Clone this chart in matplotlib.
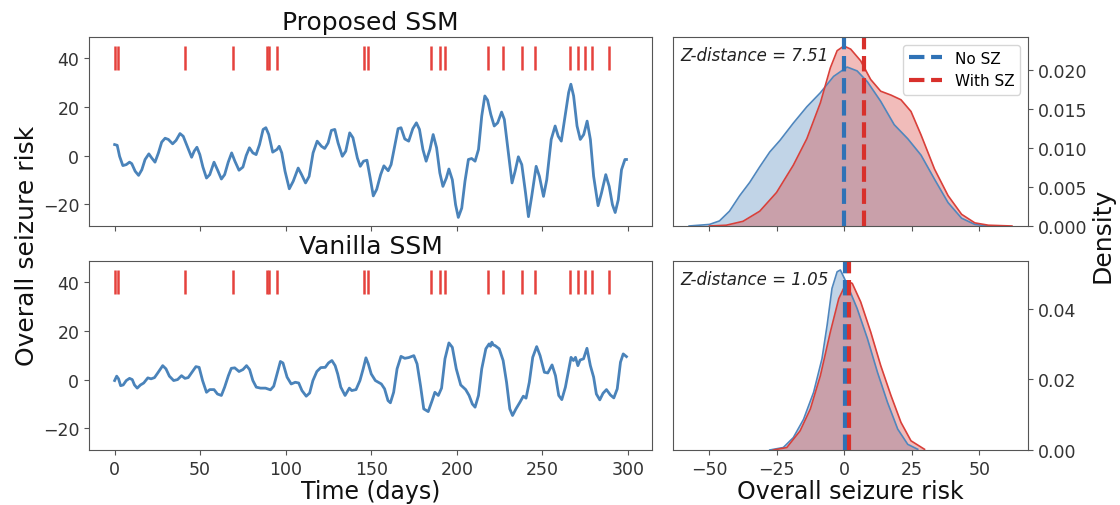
import numpy as np
import matplotlib.pyplot as plt

# seizure days (red ticks)
sz_days = [0, 2, 41, 69, 89, 90, 95, 146, 148, 185, 190, 193, 218, 227, 238,
           246, 266, 271, 275, 279, 289]

# proposed SSM risk trace
prop_days = [0, 1.5, 2.9, 4.8, 6.8, 8.7, 10, 12, 14, 15.9, 17.8, 20, 21.7, 23.6,
             25.6, 27.5, 29.5, 31.4, 33.9, 35.9, 38.2, 40.1, 42.2, 45, 46.5, 48.1,
             49.8, 51.6, 53.7, 55.6, 58.1, 60.1, 62.4, 64.3, 66.4, 68.4, 70.3,
             72.7, 75, 76.9, 78.8, 80.8, 82.7, 84.7, 86.8, 88.4, 90.1, 92.4, 94.9,
             96.2, 97.7, 99.6, 102.1, 104.4, 107.3, 109.3, 111.6, 113.7, 116,
             118.4, 120.9, 122.8, 124.8, 126.7, 128.7, 130.6, 133.1, 135.1, 137.4,
             139.3, 141.9, 143.6, 145.5, 147.5, 149.4, 151.2, 153.2, 155.5, 157.4,
             159.9, 161.6, 163.7, 165.7, 167.4, 169.6, 171.9, 174.3, 176.4, 178.2,
             180.2, 182.1, 184.3, 186.2, 188.2, 190.1, 191.9, 193.9, 195.4, 197.4,
             199.3, 200.9, 202.9, 204.8, 206.8, 208.7, 210.7, 212.7, 214.6, 216.4,
             218, 219.9, 221.9, 223.9, 226.2, 227.8, 229.7, 232.3, 234.1, 236,
             238, 240.2, 241.9, 243.8, 246.4, 248.3, 250.7, 252.6, 255.2, 257.5,
             259.3, 261.1, 263, 265.4, 266.7, 268.3, 270.3, 272.2, 274.2, 276.2,
             278.1, 280, 282.6, 284.6, 287.1, 289.1, 291, 292.6, 294.4, 296.3,
             298.3, 299.2]
prop_risk = [4.5, 4.2, -0.3, -4.1, -3.7, -2.7, -3.3, -6.4, -8.1, -5.8, -1.6, 0.7,
             -1.0, -2.7, 1.1, 5.5, 7.1, 6.6, 4.8, 6.2, 9.0, 7.9, 4.2, -0.7, 1.8,
             3.4, 0.4, -4.7, -9.2, -7.8, -2.7, -5.8, -9.6, -7.8, -2.7, 1.1, -2.3,
             -6.0, -4.7, 0, 3.2, 1.1, 0.4, 4.5, 10.7, 11.4, 8.6, 1.4, 2.5, 3.8,
             1.1, -6.4, -13.6, -10.5, -5.1, -7.8, -11.2, -8.5, 1.1, 5.9, 3.8, 2.9,
             5.2, 10.3, 10.7, 5.2, -0.3, 1.8, 9.3, 7.3, -1.0, -4.4, -2.3, -1.9,
             -9.2, -16.5, -13.8, -7.8, -4.2, -6.2, -3.7, 3.8, 11.0, 11.4, 6.8, 5.9,
             11.0, 13.4, 10.7, 2.5, -2.3, 2.5, 8.6, 3.2, -7.1, -12.6, -9.2, -5.5,
             -9.9, -20.1, -25.3, -21.5, -10.5, -1.6, -1.2, -2.3, 2.5, 16.2, 24.4,
             22.7, 16.8, 12.1, 13.4, 17.8, 14.8, 3.8, -11.2, -6.4, -0.5, -3.7,
             -15.3, -25.0, -16.7, -4.4, -8.5, -16.7, -9.9, 6.6, 12.1, 7.9, 5.9,
             14.8, 25.8, 29.2, 24.4, 12.1, 6.6, 8.6, 14.1, 6.6, -8.5, -20.5, -15.3,
             -7.8, -12.6, -20.1, -23.3, -18.1, -5.8, -1.6, -1.6]

# vanilla SSM risk trace
van_days = [0, 1.2, 2.3, 3.5, 5, 6.8, 8.7, 10.3, 11.6, 13.2, 15.1, 17, 19.4, 21.3,
            23.3, 25.2, 28.1, 30, 32, 34.5, 36.8, 39.1, 41.1, 43, 45.2, 47.5, 49.4,
            51.4, 53.7, 55.6, 58.1, 60.1, 62.4, 64.3, 66.5, 68.2, 70.2, 72.7, 75,
            77.1, 78.9, 80.8, 82.8, 85.3, 88.2, 91.1, 93, 94.9, 96.9, 98.4, 100.8,
            103.2, 105.6, 107.6, 109.5, 112, 114, 115.9, 118.2, 120.5, 123.1, 125,
            127, 128.9, 130.4, 132.2, 134.7, 137.2, 138.6, 141.1, 143.4, 145.3,
            146.9, 148.3, 150, 152.4, 155.9, 157.8, 159.8, 161.2, 163.1, 165.1,
            167.4, 169.6, 171.9, 174.9, 176.8, 178.8, 180.7, 183.3, 185.6, 187.2,
            189.2, 191.1, 193.1, 195.4, 197.4, 199.7, 202.3, 205.2, 207.2, 209.1,
            210.7, 212.7, 214.6, 217, 218.9, 219.7, 220.5, 221.3, 222.4, 224.8,
            227.1, 229.1, 231, 232.6, 234.6, 236.9, 238.9, 240.5, 242.4, 244.4,
            246.7, 248.7, 251.2, 253.2, 255.7, 257.7, 259.6, 261.4, 263.5, 265.5,
            266.8, 268.2, 269.4, 270.8, 272.1, 274.1, 276.1, 278.1, 280, 281.6,
            283.6, 285.5, 287.5, 289.8, 291.8, 293.8, 295.7, 297.3, 299.2]
van_risk = [-0.4, 1.4, 0.3, -2.5, -2.2, -0.4, 0.5, 0, -2.2, -3.5, -2.2, -1.4, 0.7,
            0.3, 0.8, 2.7, 5.7, 4.4, 1.4, -0.4, 0, 1.6, 0.5, 0.8, 3.0, 5.3, 5.0,
            -0.4, -5.2, -4.1, -4.1, -5.9, -6.5, -3.1, 1.6, 4.6, 4.8, 3.3, 4.1, 5.7,
            4.1, -0.4, -3.1, -3.5, -3.5, -4.2, -2.7, 2.3, 7.4, 6.8, 1.0, -1.8,
            -1.1, -1.4, -4.5, -6.8, -5.5, -0.4, 3.3, 4.9, 5.0, 6.8, 7.8, 5.7, 2.3,
            -3.1, -6.5, -3.5, -4.5, -4.1, -0.4, 4.4, 8.9, 6.4, 2.3, -0.4, -1.8,
            -3.8, -8.6, -9.5, -5.2, 4.4, 9.5, 8.7, 9.0, 9.8, 6.4, -2.5, -12.0,
            -13.1, -8.6, -5.2, -6.5, -3.5, 8.5, 15.0, 13.2, 4.4, -2.2, -4.1, -6.5,
            -10.0, -11.3, -6.5, 4.4, 12.6, 14.6, 13.6, 15.3, 14.2, 13.9, 12.6, 7.8,
            -1.1, -12.0, -14.7, -12.0, -9.3, -6.8, -7.6, -1.1, 9.1, 13.5, 9.8, 3.0,
            2.7, 6.0, 1.6, -6.5, -8.2, -3.1, 4.4, 9.1, 7.8, 9.1, 5.7, 8.0, 8.5,
            12.8, 5.7, 1.0, -5.9, -8.3, -5.6, -4.1, -6.3, -7.5, -3.8, 7.1, 10.5, 9.4]

# density curves (proposed)
p_no_x = [-57.3, -49.8, -46.1, -42.4, -38.6, -34.9, -31.2, -27.5, -23.7, -18.8,
          -13.8, -8.8, -3.9, 1.1, 4.8, 8.6, 13.5, 18.5, 23.5, 28.4, 33.4, 38.4,
          43.4, 48.3, 53.3]
p_no_d = [0, 0.0002, 0.00065, 0.0019, 0.0039, 0.0056, 0.0076, 0.0095, 0.0110,
          0.0132, 0.0153, 0.0171, 0.0192, 0.0204, 0.0199, 0.0185, 0.0160, 0.0130,
          0.0112, 0.0091, 0.0060, 0.0030, 0.0010, 0.0002, 0]
p_sz_x = [-49.8, -43.6, -37.4, -31.2, -25, -18.8, -13.8, -8.8, -5.1, -2.6, -0.1,
          2.4, 6.1, 9.8, 13.5, 17.3, 21, 24.7, 28.4, 33.4, 38.4, 43.4, 48.3,
          53.3, 62]
p_sz_d = [0, 0.0001, 0.0006, 0.0019, 0.0043, 0.0078, 0.0112, 0.0158, 0.0203,
          0.0225, 0.0231, 0.0227, 0.0212, 0.0188, 0.0173, 0.0168, 0.0162, 0.0147,
          0.0117, 0.0073, 0.0039, 0.0015, 0.0004, 0.0001, 0]

# density curves (vanilla)
v_no_x = [-27.5, -22.5, -18.8, -15, -11.3, -8.2, -6.3, -4.5, -2.6, -1.4, 0.1,
          1.7, 4.8, 8.6, 12.3, 16, 19.8, 23.5, 27.2]
v_no_d = [0, 0.0007, 0.0035, 0.0087, 0.0163, 0.0258, 0.0353, 0.0457, 0.0504,
          0.0509, 0.0485, 0.0457, 0.040, 0.0315, 0.022, 0.0135, 0.0059, 0.0016,
          0.0002]
v_sz_x = [-26.2, -21.2, -16.3, -12.5, -8.8, -5.1, -2, 1.1, 3, 6.1, 9.8, 13.5,
          17.3, 21, 24.7, 29.7]
v_sz_d = [0, 0.0007, 0.0054, 0.0116, 0.0210, 0.0334, 0.0428, 0.0478, 0.0471,
          0.0419, 0.0334, 0.0239, 0.0154, 0.0078, 0.0026, 0.0002]

p_means = [-0.2, 7.3]
v_means = [0.3, 1.8]
z_dist = [7.51, 1.05]
titles = ['Proposed SSM', 'Vanilla SSM']

BLUE = '#4a83ba'
RED = '#e5423d'
GREY = '#555555'

fig = plt.figure(figsize=(11.2, 5.06), dpi=100)
axL1 = fig.add_axes([0.0795, 0.5514, 0.5027, 0.3735])
axL2 = fig.add_axes([0.0795, 0.1087, 0.5027, 0.3735], sharex=axL1, sharey=axL1)
axR1 = fig.add_axes([0.6009, 0.5514, 0.317, 0.3735])
axR2 = fig.add_axes([0.6009, 0.1087, 0.317, 0.3735], sharex=axR1)

for ax, d, r, t in [(axL1, prop_days, prop_risk, titles[0]),
                    (axL2, van_days, van_risk, titles[1])]:
    ax.plot(d, r, color=BLUE, lw=2)
    ax.vlines(sz_days, 35, 45, color=RED, lw=1.8)
    ax.set_title(t, fontsize=18, color='#111111')
    ax.set_yticks([-20, 0, 20, 40])
axL2.set_xticks([0, 50, 100, 150, 200, 250, 300])
axL2.set_xlabel('Time (days)', fontsize=17, color='#111111', labelpad=1)
plt.setp(axL1.get_xticklabels(), visible=False)

kde_sets = [(axR1, p_no_x, p_no_d, p_sz_x, p_sz_d, p_means, z_dist[0]),
            (axR2, v_no_x, v_no_d, v_sz_x, v_sz_d, v_means, z_dist[1])]
for ax, nx, nd, sx, sd, means, z in kde_sets:
    ax.fill_between(nx, nd, color='#4f86bd', alpha=0.35, lw=0)
    ax.plot(nx, nd, color='#4f86bd', lw=1.2)
    ax.fill_between(sx, sd, color='#d9403a', alpha=0.35, lw=0)
    ax.plot(sx, sd, color='#d9403a', lw=1.2)
    ax.axvline(means[0], color='#2f72b6', ls='--', lw=3, label='No SZ')
    ax.axvline(means[1], color='#d8302b', ls='--', lw=3, label='With SZ')
    ax.set_ylim(0, max(max(nd), max(sd)) * 1.05)
    ax.yaxis.tick_right()
    ax.text(0.02, 0.955, 'Z-distance = %.2f' % z, transform=ax.transAxes,
            style='italic', fontsize=12, va='top', color='#222222')
axR2.set_xticks([-50, -25, 0, 25, 50])
plt.setp(axR1.get_xticklabels(), visible=False)
axR2.set_xlabel('Overall seizure risk', fontsize=17, color='#111111', labelpad=1)
axR1.legend(loc='upper right', fontsize=11, handlelength=2.2)

for ax in [axL1, axL2, axR1, axR2]:
    ax.tick_params(labelsize=12.5, colors=GREY, labelcolor='#333333')
    for s in ax.spines.values():
        s.set_color(GREY)

fig.text(0.024, 0.515, 'Overall seizure risk', rotation=90, fontsize=18,
         ha='center', va='center', color='#111111')
fig.text(0.984, 0.535, 'Density', rotation=90, fontsize=18,
         ha='center', va='center', color='#111111')

plt.savefig('out.png', dpi=100)
